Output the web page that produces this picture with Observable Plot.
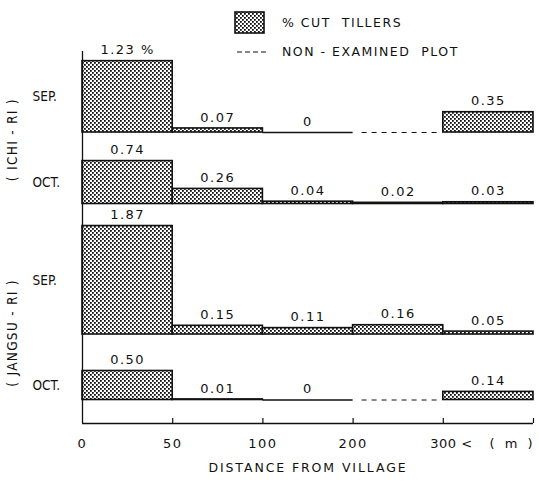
<!DOCTYPE html>
<html>
<head>
<meta charset="utf-8">
<script src="https://cdn.jsdelivr.net/npm/d3@7"></script>
<script src="https://cdn.jsdelivr.net/npm/@observablehq/plot@0.6"></script>
<style>
  html, body { margin: 0; padding: 0; background: white; }
  #wrap { position: relative; width: 539px; height: 481px; font-family: "DejaVu Sans", sans-serif; color: #111; }
  .leg { position: absolute; font-size: 12.5px; letter-spacing: 1.5px; white-space: pre; line-height: 14px; }
</style>
</head>
<body>
<div id="wrap"></div>
<script>
// ---- data ----
const bins = ["0-50", "50-100", "100-200", "200-300", "300<"];
const tickLabels = ["0", "50", "100", "200", "300 <"];
const unitLabel = "( m )";
const villages = ["( ICHI - RI )", "( JANGSU - RI )"];
const months = ["SEP.", "OCT."];
// % cut tillers per distance bin (null = non-examined plot)
const ichiSep   = [1.23, 0.07, 0,    null, 0.35];
const ichiOct   = [0.74, 0.26, 0.04, 0.02, 0.03];
const jangsuSep = [1.87, 0.15, 0.11, 0.16, 0.05];
const jangsuOct = [0.50, 0.01, 0,    null, 0.14];
const xTitle = "DISTANCE FROM VILLAGE";
const legendBar = "% CUT  TILLERS";
const legendDash = "NON - EXAMINED  PLOT";

// ---- layout (pixels) ----
const W = 539, H = 481, axisPx = 423, K = 58; // px per % unit
const baselinePx = [132, 203.5, 334, 399.5];
const leftAxisTopPx = 51;
const toU = px => (axisPx - px) / K;

const panels = [
  {village: villages[0], month: months[0], values: ichiSep},
  {village: villages[0], month: months[1], values: ichiOct},
  {village: villages[1], month: months[0], values: jangsuSep},
  {village: villages[1], month: months[1], values: jangsuOct}
].map((p, j) => ({...p, base: toU(baselinePx[j])}));

const cells = panels.flatMap((p, j) => p.values.map((v, i) => ({
  panel: j, i, bin: bins[i], v, base: p.base,
  label: v === null ? null : (v === 0 ? "0" : v.toFixed(2) + (j === 0 && i === 0 ? " %" : ""))
})));
const bars = cells.filter(d => d.v !== null && d.v > 0);
const zeros = cells.filter(d => d.v === 0);
const missing = cells.filter(d => d.v === null);
const labelled = cells.filter(d => d.v !== null);

const monthLabels = panels.map(p => ({text: p.month, y: p.base + p.values[0] / 2}));
const groupLabels = villages.map((v, g) => ({text: v, y: (monthLabels[2 * g].y + monthLabels[2 * g + 1].y) / 2}));

const ink = "#111";
const chart = Plot.plot({
  width: W, height: H,
  marginLeft: 82, marginRight: 6, marginTop: 0, marginBottom: H - axisPx,
  x: {domain: [0, bins.length], axis: null},
  y: {domain: [0, axisPx / K], axis: null},
  style: {fontFamily: "DejaVu Sans, sans-serif", fontSize: "13px", background: "transparent", color: ink},
  marks: [
    Plot.rect(bars, {x1: "i", x2: d => d.i + 1, y1: "base", y2: d => d.base + d.v,
      fill: "url(#dots)", stroke: ink, strokeWidth: 1.6}),
    Plot.ruleY(zeros, {y: "base", x1: "i", x2: d => d.i + 1, stroke: ink, strokeWidth: 1.6}),
    Plot.ruleY(missing, {y: "base", x1: d => d.i + 0.1, x2: d => d.i + 0.95, stroke: ink, strokeWidth: 1, strokeDasharray: "5,5"}),
    Plot.text(labelled, {x: d => d.i + 0.5, y: d => d.base + d.v, text: "label", dy: -11, fontSize: 13, fill: ink}),
    Plot.ruleX([0], {y1: 0, y2: toU(leftAxisTopPx), stroke: ink, strokeWidth: 1.3}),
    Plot.ruleY([0], {stroke: ink, strokeWidth: 1.3}),
    Plot.ruleX([1, 2, 3, 4, 5], {y1: 0, y2: 5 / K, stroke: ink, strokeWidth: 1.2}),
    Plot.text(tickLabels.slice(0, 4), {x: (d, i) => i, y: 0, dy: 20, fontSize: 13, fill: ink}),
    Plot.text(tickLabels.slice(4), {x: 4, y: 0, dy: 20, dx: -13, textAnchor: "start", fontSize: 13, fill: ink}),
    Plot.text([unitLabel], {x: 5, y: 0, dy: 20, dx: -21, fontSize: 13, fill: ink}),
    Plot.text([xTitle], {frameAnchor: "bottom", dy: 48, fontSize: 12.5, fill: ink}),
    Plot.text(monthLabels, {frameAnchor: "left", y: "y", text: "text", dx: -50, textAnchor: "start", fontSize: 13.5,
      fontFamily: "DejaVu Sans Condensed, DejaVu Sans", fill: ink}),
    Plot.text(groupLabels, {frameAnchor: "left", y: "y", text: "text", dx: -70, rotate: -90, textAnchor: "middle",
      fontSize: 13.5, fontFamily: "DejaVu Sans Condensed, DejaVu Sans", fill: ink})
  ]
});

// letter spacing by text role
const valueTexts = new Set(labelled.map(d => d.label));
chart.querySelectorAll("text").forEach(t => {
  const s = t.textContent;
  let ls = null;
  if (s === xTitle) ls = "1.9px";
  else if (s === unitLabel) ls = "3px";
  else if (villages.includes(s)) ls = "1.3px";
  else if (s === tickLabels[4]) ls = "0.5px";
  else if (tickLabels.includes(s) || valueTexts.has(s)) ls = "1.5px";
  if (ls) t.setAttribute("letter-spacing", ls);
});

// dot pattern for bars
const ns = "http://www.w3.org/2000/svg";
function makePattern(svg, id) {
  const defs = document.createElementNS(ns, "defs");
  const pat = document.createElementNS(ns, "pattern");
  pat.setAttribute("id", id);
  pat.setAttribute("width", 4); pat.setAttribute("height", 4);
  pat.setAttribute("patternUnits", "userSpaceOnUse");
  const bg = document.createElementNS(ns, "rect");
  bg.setAttribute("width", 4); bg.setAttribute("height", 4); bg.setAttribute("fill", "white");
  pat.appendChild(bg);
  [[0, 0], [2, 2]].forEach(([x, y]) => {
    const r = document.createElementNS(ns, "rect");
    r.setAttribute("x", x); r.setAttribute("y", y);
    r.setAttribute("width", 1.8); r.setAttribute("height", 1.8); r.setAttribute("fill", "#111");
    pat.appendChild(r);
  });
  defs.appendChild(pat);
  svg.insertBefore(defs, svg.firstChild);
}
makePattern(chart, "dots");

const wrap = document.getElementById("wrap");
wrap.appendChild(chart);

// legend (HTML overlay)
const sw = document.createElementNS(ns, "svg");
sw.setAttribute("width", 32); sw.setAttribute("height", 24);
sw.style.position = "absolute"; sw.style.left = "234px"; sw.style.top = "11px";
makePattern(sw, "dots2");
const swr = document.createElementNS(ns, "rect");
swr.setAttribute("x", 1); swr.setAttribute("y", 1); swr.setAttribute("width", 29); swr.setAttribute("height", 21);
swr.setAttribute("fill", "url(#dots2)"); swr.setAttribute("stroke", ink); swr.setAttribute("stroke-width", 1.6);
sw.appendChild(swr);
wrap.appendChild(sw);

const ds = document.createElementNS(ns, "svg");
ds.setAttribute("width", 32); ds.setAttribute("height", 6);
ds.style.position = "absolute"; ds.style.left = "237px"; ds.style.top = "49px";
const dl = document.createElementNS(ns, "line");
dl.setAttribute("x1", 0); dl.setAttribute("x2", 30); dl.setAttribute("y1", 3); dl.setAttribute("y2", 3);
dl.setAttribute("stroke", ink); dl.setAttribute("stroke-width", 1); dl.setAttribute("stroke-dasharray", "5,3");
ds.appendChild(dl);
wrap.appendChild(ds);

const t1 = document.createElement("div");
t1.className = "leg"; t1.style.left = "282px"; t1.style.top = "16px"; t1.textContent = legendBar;
wrap.appendChild(t1);
const t2 = document.createElement("div");
t2.className = "leg"; t2.style.left = "282px"; t2.style.top = "45px"; t2.textContent = legendDash;
wrap.appendChild(t2);
</script>
</body>
</html>
